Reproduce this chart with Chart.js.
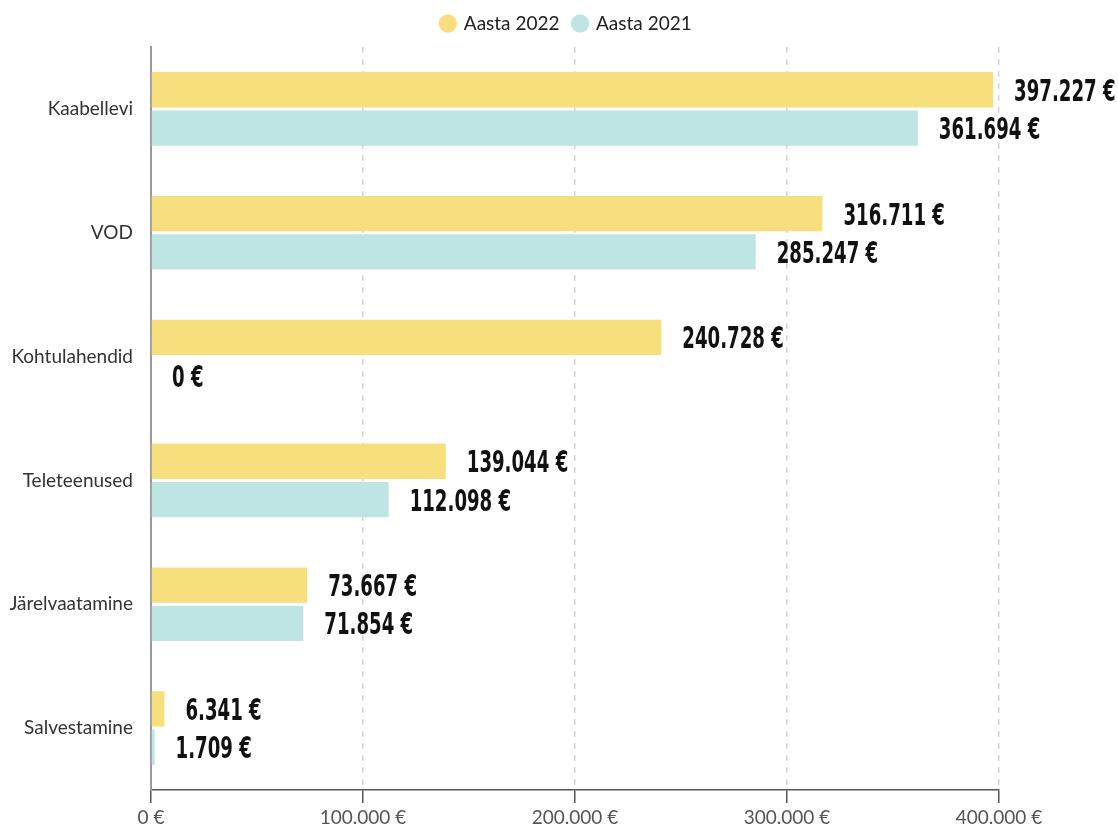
<!DOCTYPE html>
<html>
<head>
<meta charset="utf-8">
<script src="https://cdn.jsdelivr.net/npm/chart.js@4/dist/chart.umd.min.js"></script>
<style>
  html, body { margin: 0; padding: 0; background: #fff; }
  #wrap { width: 1118px; height: 827px; position: relative; }
</style>
</head>
<body>
<div id="wrap"><canvas id="c"></canvas></div>
<script>
const categories = ['Kaabellevi', 'VOD', 'Kohtulahendid', 'Teleteenused', 'Järelvaatamine', 'Salvestamine'];
const seriesNames = ['Aasta 2022', 'Aasta 2021'];
const values2022 = [397227, 316711, 240728, 139044, 73667, 6341];
const values2021 = [361694, 285247, 0, 112098, 71854, 1709];
const xTickValues = [0, 100000, 200000, 300000, 400000];

const fmt = v => String(Math.round(v)).replace(/\B(?=(\d{3})+(?!\d))/g, '.') + ' €';
const uiFont = 'Lato, "Noto Sans", sans-serif';

const valueLabels = {
  id: 'valueLabels',
  afterLayout(chart) {
    // center the legend over the full page like the reference
    if (chart.legend) { chart.legend.left += 67; chart.legend.right += 67; }
  },
  afterDatasetsDraw(chart) {
    const ctx = chart.ctx;
    ctx.save();
    ctx.fillStyle = '#111';
    ctx.font = 'bold 31px "DejaVu Sans Condensed", "DejaVu Sans", sans-serif';
    ctx.textAlign = 'left';
    ctx.textBaseline = 'alphabetic';
    chart.data.datasets.forEach((ds, di) => {
      const meta = chart.getDatasetMeta(di);
      meta.data.forEach((el, i) => {
        const x = el.x + 21;
        const y = el.y + 11;
        ctx.save();
        ctx.translate(x, y);
        ctx.scale(0.65, 1);
        ctx.fillText(fmt(ds.data[i]), 0, 0);
        ctx.restore();
      });
    });
    ctx.restore();
  }
};

new Chart(document.getElementById('c'), {
  type: 'bar',
  data: {
    labels: categories,
    datasets: [
      { label: seriesNames[0], data: values2022, backgroundColor: '#F8DF7D', borderWidth: 0,
        categoryPercentage: 0.62, barPercentage: 0.92 },
      { label: seriesNames[1], data: values2021, backgroundColor: '#BEE5E1', borderWidth: 0,
        categoryPercentage: 0.62, barPercentage: 0.92 }
    ]
  },
  options: {
    indexAxis: 'y',
    responsive: true,
    maintainAspectRatio: false,
    animation: false,
    layout: { padding: { top: 0, right: 119, bottom: 0, left: 0 } },
    plugins: {
      legend: {
        position: 'top',
        labels: {
          usePointStyle: true, pointStyle: 'circle', boxWidth: 13, boxHeight: 13,
          padding: 14, color: '#222', font: { family: uiFont, size: 19 }
        }
      },
      tooltip: { enabled: false }
    },
    scales: {
      x: {
        min: 0, max: 400000,
        afterBuildTicks: s => { s.ticks = xTickValues.map(v => ({ value: v })); },
        ticks: { callback: v => fmt(v), color: '#555', font: { family: uiFont, size: 19 }, padding: 3, maxRotation: 0 },
        grid: { color: '#d6d6d6', lineWidth: 1.5, tickColor: '#555', tickLength: 13, tickWidth: 1.5 },
        border: { display: true, color: '#555', width: 1.5, dash: [6, 6] },
        afterFit: s => { s.height = 37; }
      },
      xTopSpace: {
        type: 'linear', axis: 'x', position: 'top', display: true,
        grid: { display: false }, border: { display: false }, ticks: { display: false },
        afterFit: s => { s.height = 4; }
      },
      y: {
        grid: { display: false },
        border: { display: true, color: '#999', width: 2 },
        ticks: { color: '#333', font: { family: uiFont, size: 19 }, padding: 10 },
        afterFit: s => { s.width = 151; }
      }
    }
  },
  plugins: [valueLabels]
});
</script>
</body>
</html>
